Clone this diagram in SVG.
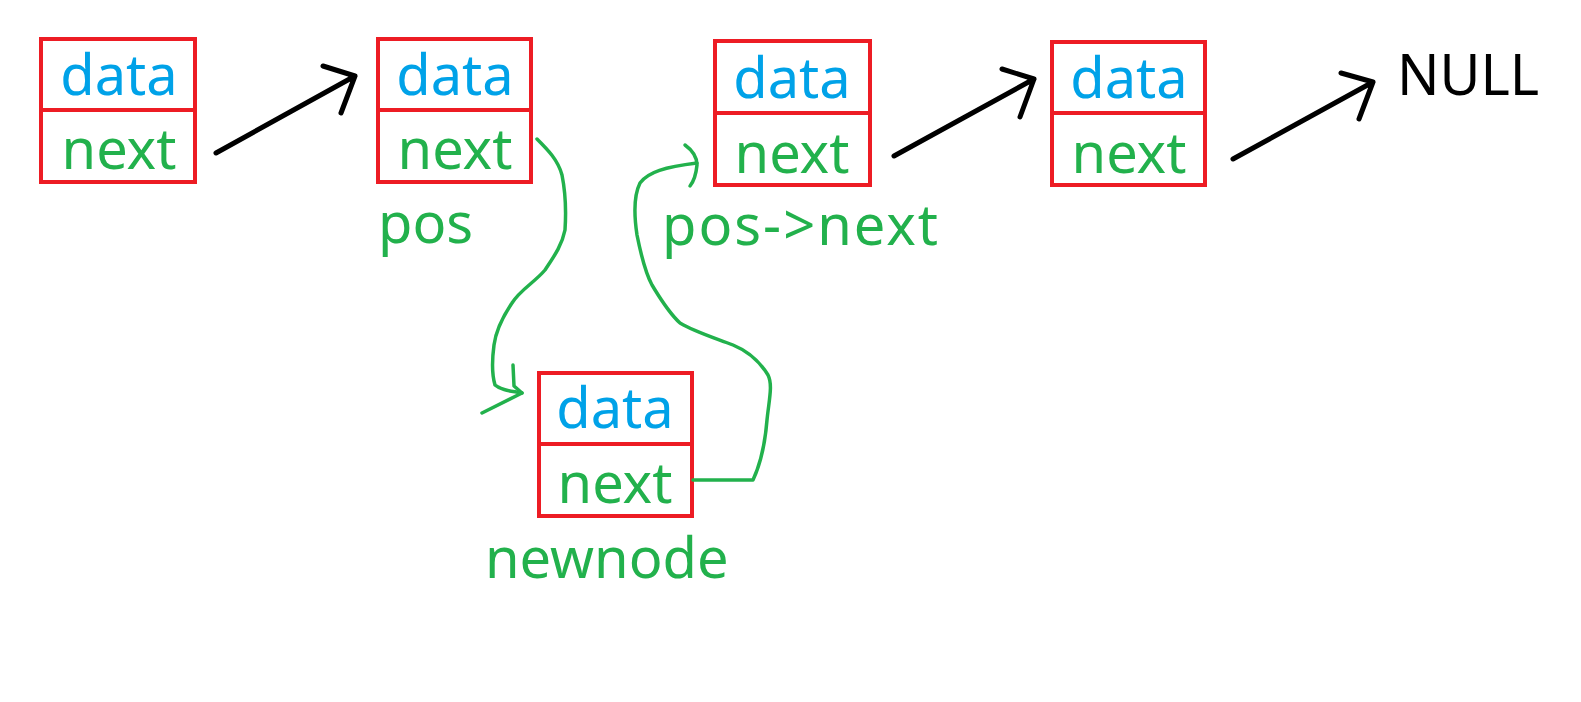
<svg xmlns="http://www.w3.org/2000/svg" width="1581" height="702" viewBox="0 0 1581 702">
<style>
.box{fill:#fff;stroke:#ed1c24;stroke-width:4}
.div{stroke:#ed1c24;stroke-width:4}
.t{font-family:"Noto Sans","Liberation Sans",sans-serif;font-size:56px;text-anchor:middle}
.data{fill:#00a2e8}
.nx{fill:#22b14c}
.lbl{font-family:"Noto Sans","Liberation Sans",sans-serif;font-size:56px;fill:#22b14c}
.blk{fill:none;stroke:#000;stroke-width:5;stroke-linecap:round;stroke-linejoin:round}
.grn{fill:none;stroke:#22b14c;stroke-width:3.5;stroke-linecap:round;stroke-linejoin:round}
</style>
<rect width="1581" height="702" fill="#fff"/>
<g id="node1">
<rect class="box" x="41" y="39" width="154" height="143"/>
<line class="div" x1="41" y1="110" x2="195" y2="110"/>
<text class="t data" x="119" y="95">data</text>
<text class="t nx" x="119" y="169">next</text>
</g>
<g id="node2">
<rect class="box" x="378" y="39" width="153" height="143"/>
<line class="div" x1="378" y1="110" x2="531" y2="110"/>
<text class="t data" x="455" y="95">data</text>
<text class="t nx" x="455" y="169">next</text>
<text class="lbl" x="378" y="243">pos</text>
</g>
<g id="node3">
<rect class="box" x="715" y="41" width="155" height="144"/>
<line class="div" x1="715" y1="113" x2="870" y2="113"/>
<text class="t data" x="792" y="98">data</text>
<text class="t nx" x="792" y="173">next</text>
<text class="lbl" x="662" y="245" textLength="276" lengthAdjust="spacing">pos-&gt;next</text>
</g>
<g id="node4">
<rect class="box" x="1052" y="42" width="153" height="143"/>
<line class="div" x1="1052" y1="113" x2="1205" y2="113"/>
<text class="t data" x="1129" y="98">data</text>
<text class="t nx" x="1129" y="173">next</text>
</g>
<g id="newnode">
<rect class="box" x="539" y="373" width="153" height="143"/>
<line class="div" x1="539" y1="444" x2="692" y2="444"/>
<text class="t data" x="615" y="428">data</text>
<text class="t nx" x="615" y="503">next</text>
<text class="lbl" x="485" y="578">newnode</text>
</g>
<g id="null">
<text x="1397" y="95" style="font-family:'Noto Sans','Liberation Sans',sans-serif;font-size:56px;fill:#000">NULL</text>
</g>
<g id="connectors">
<path class="blk" d="M216,153 L355,76 M323,66 L355,76 L341,113"/>
<path class="blk" d="M894,156 L1034,79 M1002,69 L1034,79 L1020,117"/>
<path class="blk" d="M1233,159 L1373,82 M1341,73 L1373,82 L1359,119"/>
<path class="grn" d="M537,139 C548,150 558,160 562,175 C566,195 566,215 565,230 C562,245 555,255 545,270 C535,282 520,290 512,303 C502,318 496,330 494,345 C492,360 492,375 495,385 C502,391 512,391 522,393"/>
<path class="grn" d="M513,365 L514,386 L522,393 L482,413"/>
<path class="grn" d="M693,480 L753,480 C760,465 765,445 767,420 C769,400 773,385 768,375 C760,362 750,352 733,345 C715,338 695,332 680,323 C668,312 660,298 652,285 C645,272 641,255 637,235 C634,215 634,195 640,183 C648,172 665,167 697,163"/>
<path class="grn" d="M685,145 C692,150 697,156 697,165 C696,175 694,181 690,186"/>
</g>
</svg>
